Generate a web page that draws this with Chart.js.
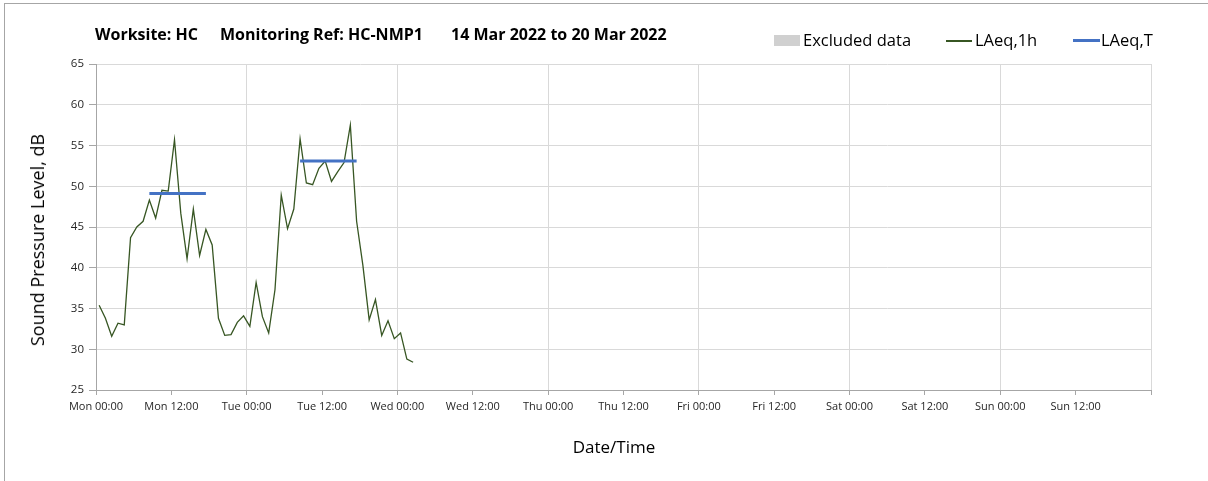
<!DOCTYPE html>
<html>
<head>
<meta charset="utf-8">
<title>HC-NMP1 noise monitoring</title>
<script src="https://cdn.jsdelivr.net/npm/chart.js@4.4.0/dist/chart.umd.min.js"></script>
<style>
    html, body { margin: 0; padding: 0; background: #fff; overflow: hidden; }
    #wrap { position: relative; width: 1208px; height: 481px; font-family: "Open Sans", sans-serif; color: #000; }
    #frame { position: absolute; left: 4px; top: 3px; width: 1230px; height: 500px; border: 1px solid #a6a6a6; }
    #chart { position: absolute; left: 0; top: 0; }
    .title { position: absolute; top: 24px; font-weight: bold; font-size: 16px; line-height: 20px; white-space: nowrap; }
    .leg-text { position: absolute; top: 30px; font-size: 16.5px; line-height: 20px; white-space: nowrap; color: #000; }
    .leg-mark { position: absolute; }
    .axis-title { position: absolute; font-size: 17px; line-height: 20px; white-space: nowrap; transform: translate(-50%, -50%); }
</style>
</head>
<body>
<div id="wrap">
    <div id="frame"></div>
    <canvas id="chart" width="1208" height="481"></canvas>

    <div class="title" style="left:95px">Worksite: HC</div>
    <div class="title" style="left:220px">Monitoring Ref: HC-NMP1</div>
    <div class="title" style="left:451px">14 Mar 2022 to 20 Mar 2022</div>

    <div class="leg-mark" style="left:774px;top:35px;width:26px;height:11px;background:#d0d0d0"></div>
    <div class="leg-text" style="left:803px">Excluded data</div>
    <div class="leg-mark" style="left:946px;top:40px;width:26px;height:1.5px;background:#375623"></div>
    <div class="leg-text" style="left:975px">LAeq,1h</div>
    <div class="leg-mark" style="left:1073px;top:39px;width:27px;height:3px;background:#4472c4"></div>
    <div class="leg-text" style="left:1101px">LAeq,T</div>

    <div class="axis-title" style="left:37px;top:240px;font-size:18px;transform:translate(-50%,-50%) rotate(-90deg)">Sound Pressure Level, dB</div>
    <div class="axis-title" style="left:614px;top:447px">Date/Time</div>
</div>

<script>
// x axis labels
const dayLabels = ["Mon", "Tue", "Wed", "Thu", "Fri", "Sat", "Sun"];
const halfDayLabels = ["00:00", "12:00"];

// hourly LAeq,1h from Mon 00:00 onwards, dB
const laeq1h = [
    35.4, 33.8, 31.6, 33.2, 33.0, 43.7, 45.0, 45.7, 48.3, 46.1, 49.5, 49.4,
    55.7, 46.7, 41.1, 47.2, 41.5, 44.7, 42.8, 33.8, 31.7, 31.8, 33.3, 34.1,
    32.8, 38.2, 34.0, 32.0, 37.3, 48.9, 44.8, 47.2, 55.8, 50.4, 50.2, 52.2,
    53.1, 50.6, 51.8, 52.9, 57.5, 45.7, 40.3, 33.6, 36.1, 31.7, 33.5, 31.3,
    32.0, 28.8, 28.4,
];

// daytime LAeq,T per day (period covers hours 08 to 17)
const laeqTDays = [0, 1];
const laeqTValues = [49.1, 53.1];
const periodStartHour = 8;
const periodEndHour = 17;

const yTicks = { min: 25, max: 65, step: 5 };
const weekHours = 168;

function buildHourly() {
    // each reading sits in the middle of its hour
    return laeq1h.map((v, i) => ({ x: i + 0.5, y: v }));
}

function buildPeriods() {
    const pts = [];
    laeqTDays.forEach((d, i) => {
        const base = d * 24;
        pts.push({ x: base + periodStartHour + 0.5, y: laeqTValues[i] });
        pts.push({ x: base + periodEndHour + 0.5, y: laeqTValues[i] });
        pts.push({ x: base + 20, y: null }); // break between days
    });
    return pts;
}

const axisGrey = "#a6a6a6";
const gridGrey = "#d9d9d9";
const tickFont = { family: "'Open Sans', sans-serif", size: 11 };

const ctx = document.getElementById("chart").getContext("2d");
new Chart(ctx, {
    type: "line",
    data: {
        datasets: [
            {
                label: "LAeq,T",
                data: buildPeriods(),
                borderColor: "#4472c4",
                borderWidth: 3,
                pointRadius: 0,
                spanGaps: false,
                tension: 0,
                order: 0,
            },
            {
                label: "LAeq,1h",
                data: buildHourly(),
                borderColor: "#375623",
                borderWidth: 1.3,
                pointRadius: 0,
                tension: 0,
                order: 1,
            },
        ],
    },
    options: {
        responsive: false,
        animation: false,
        layout: {
            padding: { left: 0, right: 57, top: 64, bottom: 0 },
        },
        plugins: {
            legend: { display: false },
            tooltip: { enabled: false },
        },
        scales: {
            x: {
                type: "linear",
                min: 0,
                max: weekHours,
                afterFit: (scale) => { scale.height = 91; },
                ticks: {
                    stepSize: 12,
                    autoSkip: false,
                    maxRotation: 0,
                    padding: 5,
                    color: "#262626",
                    font: tickFont,
                    callback: (value) => {
                        if (value >= weekHours) return "";
                        const day = dayLabels[Math.floor(value / 24)];
                        return day + " " + halfDayLabels[(value % 24) / 12];
                    },
                },
                grid: {
                    // only midnight gets a grid line, noon just a tick mark
                    color: (c) => (c.tick && c.tick.value % 24 === 0 ? gridGrey : "rgba(0,0,0,0)"),
                    tickColor: axisGrey,
                    tickLength: 5,
                },
                border: { color: axisGrey, width: 1 },
            },
            y: {
                min: yTicks.min,
                max: yTicks.max,
                afterFit: (scale) => { scale.width = 96; },
                ticks: {
                    stepSize: yTicks.step,
                    padding: 5,
                    color: "#262626",
                    font: { family: "'Open Sans', sans-serif", size: 11.5 },
                },
                grid: {
                    color: gridGrey,
                    tickColor: axisGrey,
                    tickLength: 7,
                },
                border: { color: axisGrey, width: 1 },
            },
        },
    },
});
</script>
</body>
</html>
